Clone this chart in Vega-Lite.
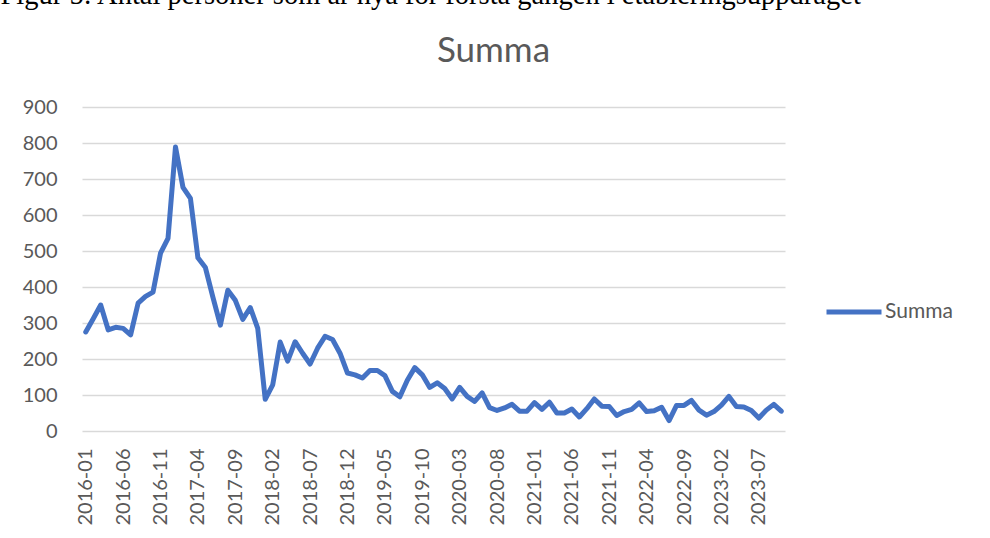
{
  "$schema": "https://vega.github.io/schema/vega-lite/v6.json",
  "autosize": {"type": "none"},
  "width": 703,
  "height": 324,
  "padding": {"left": 82, "top": 107, "right": 205, "bottom": 107},
  "background": "white",
  "config": {"view": {"stroke": null}, "font": "Lato"},
  "title": {
    "text": "Summa",
    "font": "Lato",
    "fontSize": 35,
    "fontWeight": "normal",
    "color": "#595959",
    "anchor": "middle",
    "frame": "group",
    "dx": 60,
    "dy": 93
  },
  "data": {
    "values": [
      {"month": "2016-01", "value": 275}, {"month": "2016-02", "value": 312}, {"month": "2016-03", "value": 350},
      {"month": "2016-04", "value": 281}, {"month": "2016-05", "value": 288}, {"month": "2016-06", "value": 285},
      {"month": "2016-07", "value": 267}, {"month": "2016-08", "value": 355}, {"month": "2016-09", "value": 374},
      {"month": "2016-10", "value": 386}, {"month": "2016-11", "value": 494}, {"month": "2016-12", "value": 535},
      {"month": "2017-01", "value": 789}, {"month": "2017-02", "value": 677}, {"month": "2017-03", "value": 646},
      {"month": "2017-04", "value": 481}, {"month": "2017-05", "value": 454}, {"month": "2017-06", "value": 372},
      {"month": "2017-07", "value": 294}, {"month": "2017-08", "value": 391}, {"month": "2017-09", "value": 363},
      {"month": "2017-10", "value": 310}, {"month": "2017-11", "value": 343}, {"month": "2017-12", "value": 285},
      {"month": "2018-01", "value": 88}, {"month": "2018-02", "value": 128}, {"month": "2018-03", "value": 247},
      {"month": "2018-04", "value": 194}, {"month": "2018-05", "value": 248}, {"month": "2018-06", "value": 216},
      {"month": "2018-07", "value": 186}, {"month": "2018-08", "value": 230}, {"month": "2018-09", "value": 263},
      {"month": "2018-10", "value": 254}, {"month": "2018-11", "value": 216}, {"month": "2018-12", "value": 161},
      {"month": "2019-01", "value": 156}, {"month": "2019-02", "value": 147}, {"month": "2019-03", "value": 168},
      {"month": "2019-04", "value": 168}, {"month": "2019-05", "value": 154}, {"month": "2019-06", "value": 110},
      {"month": "2019-07", "value": 95}, {"month": "2019-08", "value": 141}, {"month": "2019-09", "value": 176},
      {"month": "2019-10", "value": 156}, {"month": "2019-11", "value": 121}, {"month": "2019-12", "value": 134},
      {"month": "2020-01", "value": 118}, {"month": "2020-02", "value": 89}, {"month": "2020-03", "value": 121},
      {"month": "2020-04", "value": 96}, {"month": "2020-05", "value": 82}, {"month": "2020-06", "value": 106},
      {"month": "2020-07", "value": 65}, {"month": "2020-08", "value": 57}, {"month": "2020-09", "value": 64},
      {"month": "2020-10", "value": 74}, {"month": "2020-11", "value": 55}, {"month": "2020-12", "value": 55},
      {"month": "2021-01", "value": 79}, {"month": "2021-02", "value": 60}, {"month": "2021-03", "value": 80},
      {"month": "2021-04", "value": 50}, {"month": "2021-05", "value": 50}, {"month": "2021-06", "value": 61},
      {"month": "2021-07", "value": 39}, {"month": "2021-08", "value": 62}, {"month": "2021-09", "value": 89},
      {"month": "2021-10", "value": 69}, {"month": "2021-11", "value": 68}, {"month": "2021-12", "value": 43},
      {"month": "2022-01", "value": 54}, {"month": "2022-02", "value": 60}, {"month": "2022-03", "value": 78},
      {"month": "2022-04", "value": 54}, {"month": "2022-05", "value": 56}, {"month": "2022-06", "value": 66},
      {"month": "2022-07", "value": 29}, {"month": "2022-08", "value": 71}, {"month": "2022-09", "value": 71},
      {"month": "2022-10", "value": 85}, {"month": "2022-11", "value": 58}, {"month": "2022-12", "value": 44},
      {"month": "2023-01", "value": 54}, {"month": "2023-02", "value": 72}, {"month": "2023-03", "value": 96},
      {"month": "2023-04", "value": 68}, {"month": "2023-05", "value": 67}, {"month": "2023-06", "value": 57},
      {"month": "2023-07", "value": 36}, {"month": "2023-08", "value": 58}, {"month": "2023-09", "value": 74},
      {"month": "2023-10", "value": 55}
    ]
  },
  "mark": {"type": "line", "strokeWidth": 5, "strokeJoin": "round", "strokeCap": "round"},
  "encoding": {
    "x": {
      "field": "month",
      "type": "ordinal",
      "scale": {"type": "point", "padding": 0.5},
      "axis": {
        "title": null,
        "values": ["2016-01", "2016-06", "2016-11", "2017-04", "2017-09", "2018-02", "2018-07", "2018-12", "2019-05", "2019-10", "2020-03", "2020-08", "2021-01", "2021-06", "2021-11", "2022-04", "2022-09", "2023-02", "2023-07"],
        "labelAngle": -90,
        "labelAlign": "right",
        "labelBaseline": "middle",
        "labelFont": "Lato",
        "labelFontSize": 20,
        "labelColor": "#595959",
        "labelPadding": 17,
        "ticks": false,
        "tickSize": 0,
        "domain": false,
        "grid": false,
        "labelOverlap": false
      }
    },
    "y": {
      "field": "value",
      "type": "quantitative",
      "scale": {"domain": [0, 900], "nice": false},
      "axis": {
        "values": [0, 100, 200, 300, 400, 500, 600, 700, 800, 900],
        "title": "Figur 5: Antal personer som är nya för första gången i etableringsuppdraget",
        "titleAngle": 0,
        "titleX": -82,
        "titleY": -104,
        "titleAlign": "left",
        "titleBaseline": "alphabetic",
        "titleFont": "Liberation Serif",
        "titleFontSize": 28.5,
        "titleFontWeight": "normal",
        "titleColor": "#000000",
        "titleLimit": 990,
        "labelFont": "Lato",
        "labelFontSize": 20,
        "labelColor": "#595959",
        "labelPadding": 25,
        "ticks": false,
        "tickSize": 0,
        "domain": false,
        "grid": true,
        "gridColor": "#D9D9D9",
        "gridWidth": 1.5
      }
    },
    "color": {
      "datum": "Summa",
      "scale": {"range": ["#4472C4"]},
      "legend": {
        "title": null,
        "orient": "none",
        "legendX": 742,
        "legendY": 175,
        "padding": 0,
        "symbolType": "stroke",
        "symbolSize": 3025,
        "symbolStrokeWidth": 5,
        "labelFont": "Lato",
        "labelFontSize": 21,
        "labelColor": "#595959",
        "labelOffset": 1
      }
    }
  }
}
